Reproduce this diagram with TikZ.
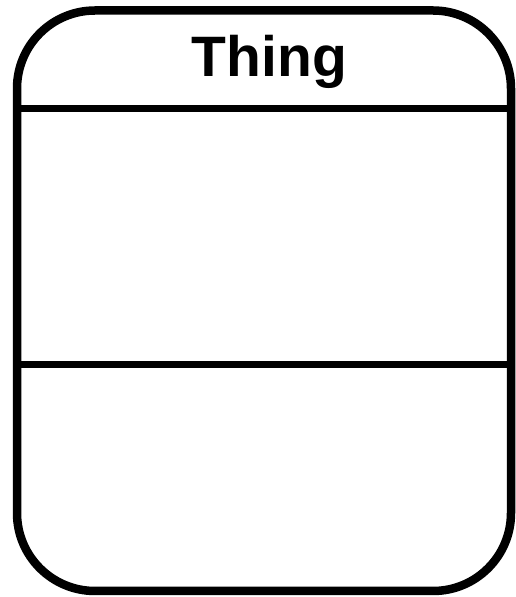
\documentclass[tikz,border=0pt]{standalone}
\usepackage{fontspec}
\setmainfont{Liberation Sans}
\begin{document}
\begin{tikzpicture}[x=1pt,y=1pt,
  frame/.style={draw=black,line width=8.5pt,rounded corners=78pt},
  divider/.style={draw=black,line width=7pt},
  title/.style={font=\fontsize{57}{60}\selectfont\bfseries,inner sep=0pt,anchor=base}]
\useasboundingbox (0,0) rectangle (515,597);
\draw[frame] (17,6) rectangle (511,586.5);
\coordinate (d1l) at (17,488);
\coordinate (d1r) at (511,488);
\coordinate (d2l) at (17,232.5);
\coordinate (d2r) at (511,232.5);
\draw[divider] (d1l) -- (d1r);
\draw[divider] (d2l) -- (d2r);
\node[title] (name) at (269.5,520) {Thing};
\end{tikzpicture}
\end{document}
